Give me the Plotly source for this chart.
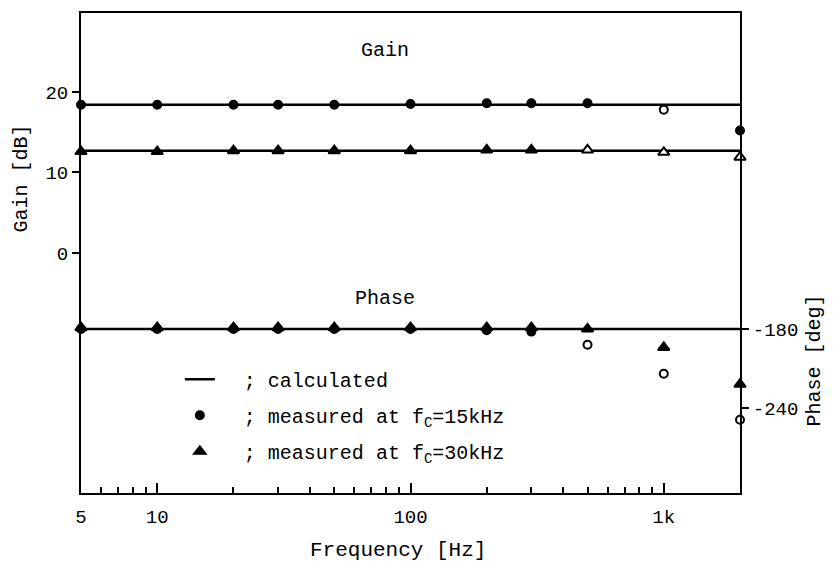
import plotly.graph_objects as go

# ---- data ----
calc_freq = [5, 2000]
calc_gain_15 = [18.4, 18.4]
calc_gain_30 = [12.7, 12.7]
calc_phase = [-180, -180]

meas_freq = [5, 10, 20, 30, 50, 100, 200, 300, 500, 1000, 2000]
gain_15 = [18.4, 18.4, 18.4, 18.4, 18.4, 18.5, 18.6, 18.6, 18.6, 17.8, 15.2]
gain_30 = [12.6, 12.6, 12.7, 12.7, 12.7, 12.7, 12.8, 12.8, 12.8, 12.5, 11.9]
phase_15 = [-180, -180, -180, -180, -180, -180, -181, -182, -192, -214, -249]
phase_30 = [-179, -179, -179, -179, -179, -179, -179, -179, -180, -194, -222]

x_tickvals = [5, 10, 100, 1000, 2000]
x_ticktext = ["5", "10", "100", "1k", " "]
x_minor = [6, 7, 8, 9, 20, 30, 40, 50, 60, 70, 80, 90,
           200, 300, 400, 500, 600, 700, 800, 900]
gain_ticks = [0, 10, 20]
phase_ticks = [-180, -240]
phase_ticktext = ["-180", "-240"]

# ---- styles ----
FONT = "Liberation Mono, DejaVu Sans Mono, monospace"
gain15_fill = ["black"] * 9 + ["white", "black"]
phase15_fill = ["black"] * 8 + ["white", "white", "white"]
gain30_fill = ["black"] * 8 + ["white", "white", "white"]
phase30_fill = ["black"] * 11

fig = go.Figure()

# calculated lines
fig.add_trace(go.Scatter(x=calc_freq, y=calc_gain_15, mode="lines",
                         line=dict(color="black", width=2.5), legendgroup="calc",
                         name="\u00a0\u00a0; calculated", showlegend=True))
fig.add_trace(go.Scatter(x=calc_freq, y=calc_gain_30, mode="lines", legendgroup="calc",
                         line=dict(color="black", width=2.5), showlegend=False))
fig.add_trace(go.Scatter(x=calc_freq, y=calc_phase, mode="lines", yaxis="y2",
                         legendgroup="calc",
                         line=dict(color="black", width=2.5), showlegend=False))

# measured fc = 15 kHz
fig.add_trace(go.Scatter(x=meas_freq, y=gain_15, mode="markers", legendgroup="m15",
                         marker=dict(symbol="circle", size=8, color=gain15_fill,
                                     line=dict(color="black", width=2)),
                         name="\u00a0\u00a0; measured at f<sub>C</sub>=15kHz",
                         cliponaxis=False))
fig.add_trace(go.Scatter(x=meas_freq, y=phase_15, mode="markers", yaxis="y2",
                         legendgroup="m15",
                         marker=dict(symbol="circle", size=8, color=phase15_fill,
                                     line=dict(color="black", width=2)),
                         showlegend=False, cliponaxis=False))

# measured fc = 30 kHz
fig.add_trace(go.Scatter(x=meas_freq, y=gain_30, mode="markers", legendgroup="m30",
                         marker=dict(symbol="triangle-up", size=10, color=gain30_fill,
                                     line=dict(color="black", width=2)),
                         name="\u00a0\u00a0; measured at f<sub>C</sub>=30kHz",
                         cliponaxis=False))
fig.add_trace(go.Scatter(x=meas_freq, y=phase_30, mode="markers", yaxis="y2",
                         legendgroup="m30",
                         marker=dict(symbol="triangle-up", size=10, color=phase30_fill,
                                     line=dict(color="black", width=2)),
                         showlegend=False, cliponaxis=False))

fig.update_layout(
    width=825, height=553,
    margin=dict(l=73, r=93, t=5, b=68, autoexpand=False),
    paper_bgcolor="white", plot_bgcolor="white",
    font=dict(family=FONT, size=20, color="black"),
    showlegend=True,
    legend=dict(x=0.15, y=0.2775, xanchor="left", yanchor="top",
                bgcolor="rgba(0,0,0,0)", borderwidth=0,
                font=dict(family=FONT, size=20, color="black"),
                tracegroupgap=7, itemwidth=30, groupclick="toggleitem"),
    xaxis=dict(type="log", range=[0.69897, 3.30103], automargin=False,
               tickmode="array", tickvals=x_tickvals, ticktext=x_ticktext,
               ticks="inside", ticklen=10, tickwidth=2, tickcolor="black",
               ticklabelstandoff=5,
               minor=dict(tickmode="array", tickvals=x_minor, ticks="inside",
                          ticklen=6, tickwidth=1.5, tickcolor="black", showgrid=False),
               showline=True, linecolor="black", linewidth=2, mirror=True,
               showgrid=False, zeroline=False,
               tickfont=dict(family=FONT, size=19)),
    yaxis=dict(range=[-29.8, 29.8], tickmode="array", tickvals=gain_ticks,
               automargin=False,
               ticks="outside", ticklen=7, tickwidth=2, tickcolor="black",
               showline=True, linecolor="black", linewidth=2,
               showgrid=False, zeroline=False,
               tickfont=dict(family=FONT, size=19)),
    yaxis2=dict(range=[-304.6, 60], overlaying="y", side="right",
                automargin=False,
                tickmode="array", tickvals=phase_ticks, ticktext=phase_ticktext,
                ticks="outside", ticklen=7, tickwidth=2, tickcolor="black",
                showline=True, linecolor="black", linewidth=2,
                showgrid=False, zeroline=False,
                tickfont=dict(family=FONT, size=19)),
    annotations=[
        dict(x=1.9, y=25.2, xref="x", yref="y", text="Gain", showarrow=False,
             font=dict(family=FONT, size=20)),
        dict(x=1.9, y=-5.6, xref="x", yref="y", text="Phase", showarrow=False,
             font=dict(family=FONT, size=20)),
        dict(x=-0.0895, y=0.655, xref="paper", yref="paper", text="Gain [dB]",
             textangle=-90, showarrow=False, xanchor="center", yanchor="middle",
             font=dict(family=FONT, size=20)),
        dict(x=1.113, y=0.277, xref="paper", yref="paper", text="Phase [deg]",
             textangle=-90, showarrow=False, xanchor="center", yanchor="middle",
             font=dict(family=FONT, size=20)),
        dict(x=0.481, y=-0.119, xref="paper", yref="paper", text="Frequency [Hz]",
             showarrow=False, xanchor="center", yanchor="middle",
             font=dict(family=FONT, size=21)),
    ],
)

fig.write_html("out.html")
